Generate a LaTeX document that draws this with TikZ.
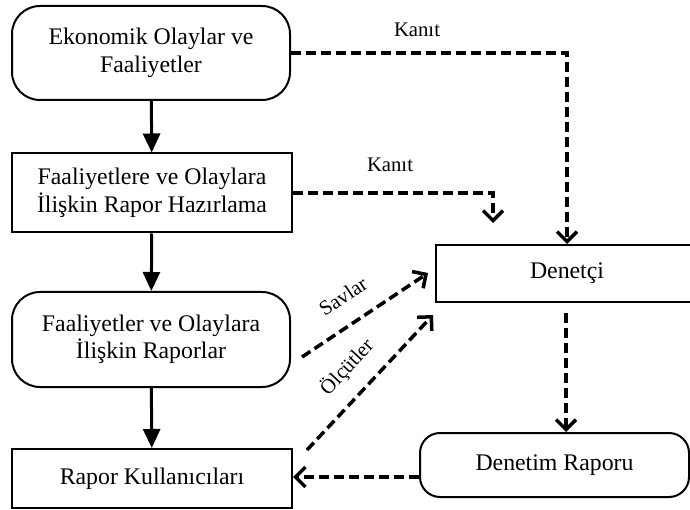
\documentclass[tikz,border=0pt]{standalone}
\usepackage{fontspec}
\setmainfont{Liberation Serif}
\usetikzlibrary{arrows.meta}
\begin{document}
\begin{tikzpicture}[x=1pt,y=-1pt,
  box/.style={draw,line width=2pt,inner sep=0pt,align=center,
    font=\fontsize{23.8}{27.5}\selectfont},
  rbox/.style={box,rounded corners=28pt},
  solidarrow/.style={line width=3pt,-{Triangle[length=19pt,width=17pt]}},
  dasharrow/.style={line width=3.5pt,dash pattern=on 10pt off 5pt,
    -{Straight Barb[length=10pt,width=20pt,line width=3.5pt]}},
  lbl/.style={font=\fontsize{20.7}{24}\selectfont,inner sep=0pt}]
\useasboundingbox (0,0) rectangle (690,510);
\clip (0,0) rectangle (690,510);
\node[rbox,minimum width=278pt,minimum height=94pt] (b1) at (151,53)
  {Ekonomik Olaylar ve\\Faaliyetler};
\node[box,minimum width=280pt,minimum height=79pt] (b2) at (152,193)
  {Faaliyetlere ve Olaylara\\İlişkin Rapor Hazırlama};
\node[rbox,minimum width=278pt,minimum height=95pt] (b3) at (151,339.5)
  {Faaliyetler ve Olaylara\\İlişkin Raporlar};
\node[box,minimum width=280pt,minimum height=59pt] (b4) at (152,478.5)
  {Rapor Kullanıcıları};
\node[box,minimum width=262pt,minimum height=57pt] (den) at (567,273.5)
  {Denetçi};
\node[rbox,rounded corners=20pt,minimum width=269pt,minimum height=64pt] (dr) at (554.5,465)
  {Denetim Raporu};
% solid flow
\draw[solidarrow] (b1) -- (b2);
\draw[solidarrow] (b2) -- (b3);
\draw[solidarrow] (b3) -- (b4);
% evidence
\draw[dasharrow] (b1.east) -| (den.north);
\node[lbl] (k1) at (417,30) {Kanıt};
\coordinate (k2end) at (493,223);
\draw[dasharrow] (b2.east) -| (k2end);
\node[lbl] (k2) at (390,165) {Kanıt};
% assertions and criteria
\coordinate (s1) at (302,357);
\coordinate (s2) at (428,273);
\draw[dasharrow] (s1) -- (s2);
\node[lbl,rotate=33.7] (sav) at (343,296) {Savlar};
\coordinate (o1) at (307,450);
\coordinate (o2) at (433,315);
\draw[dasharrow] (o1) -- (o2);
\node[lbl,rotate=47] (olc) at (347,367) {Ölçütler};
% report
\coordinate (d1) at (566,313);
\draw[dasharrow] (d1) -- (dr.north -| d1);
\draw[dasharrow] (dr.west |- 0,477) -- (b4.east |- 0,477);
\end{tikzpicture}
\end{document}
